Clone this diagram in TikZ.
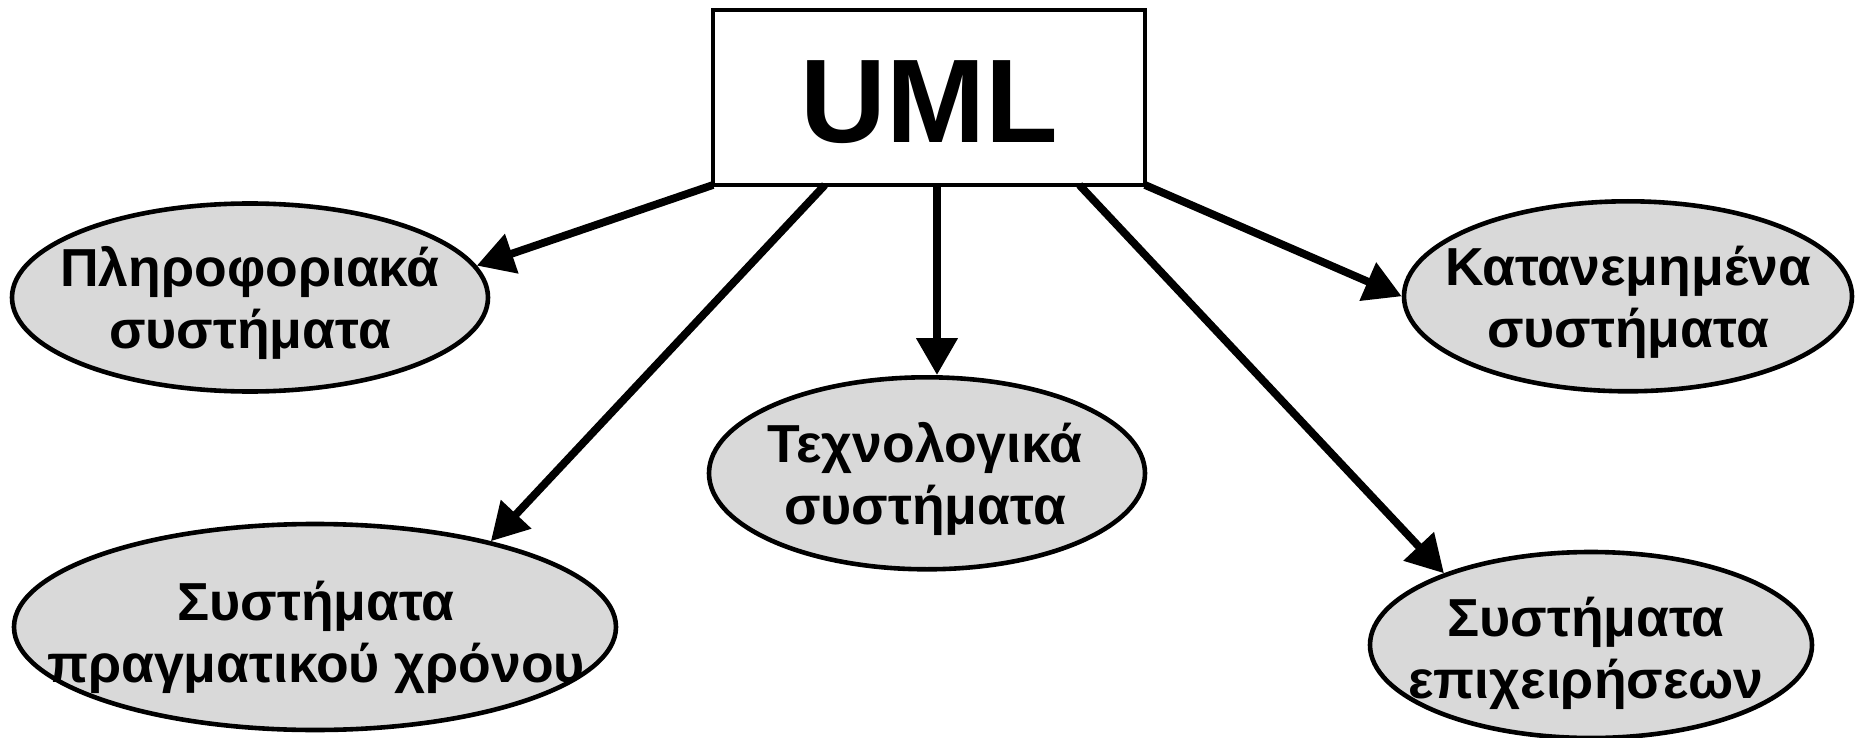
\documentclass[tikz,border=0pt]{standalone}
\usepackage{fontspec}
\setmainfont{Liberation Sans}
\usetikzlibrary{shapes.geometric,arrows.meta,calc}
\definecolor{ellgray}{RGB}{217,217,217}
\begin{document}
\begin{tikzpicture}[x=1pt,y=-1pt,
  umlbox/.style={draw, rectangle, line width=4.5pt, fill=white,
    minimum width=432pt, minimum height=175pt, inner sep=0pt, outer sep=0pt,
    font=\fontsize{119}{119}\selectfont\bfseries, text height=91pt, text depth=0pt},
  sysell/.style={draw, ellipse, line width=4.6pt, fill=ellgray, inner sep=0pt},
  systext/.style={align=center, anchor=base, inner sep=0pt,
    font=\fontsize{53.5}{62}\selectfont\bfseries},
  conn/.style={line width=7.8pt, -{Triangle[length=37pt,width=40pt]}}
]
\useasboundingbox (0,0) rectangle (1856,738);

% root box
\node[umlbox] (uml) at (929,97.5) {UML};

% the five kinds of systems
\node[sysell, minimum width=476pt, minimum height=188pt] (e1) at (250,297.5) {};
\node[sysell, minimum width=448pt, minimum height=190pt] (e2) at (1628,296.3) {};
\node[sysell, minimum width=436pt, minimum height=192pt] (e3) at (927,473.3) {};
\node[sysell, minimum width=602pt, minimum height=206pt] (e4) at (315,627) {};
\node[sysell, minimum width=442pt, minimum height=186pt] (e5) at (1591,645) {};

% labels (anchored at the baseline of their last line)
\node[systext] (t1) at (250,348) {Πληροφοριακά\\συστήματα};
\node[systext] (t2) at (1628,347) {Κατανεμημένα\\συστήματα};
\node[systext] (t3) at (925,524) {Τεχνολογικά\\συστήματα};
\node[systext] (t4) at (316,682) {Συστήματα\\πραγματικού χρόνου};
\node[systext] (t5) at (1586,698) {Συστήματα\\επιχειρήσεων};

% start points along the bottom edge of the box
\coordinate (s1) at (uml.south west);
\coordinate (s2) at ($(uml.south west)!0.259!(uml.south east)$);
\coordinate (s3) at ($(uml.south west)!0.5185!(uml.south east)$);
\coordinate (s4) at ($(uml.south west)!0.848!(uml.south east)$);
\coordinate (s5) at (uml.south east);

% connectors
\draw[conn] (s1) -- (e1.8);
\draw[conn] (s2) -- (e4.26);
\draw[conn] (s3) -- (s3 |- e3.north);
\draw[conn] (s4) -- (e5.154);
\draw[conn] (s5) -- (e2.west);
\end{tikzpicture}
\end{document}
